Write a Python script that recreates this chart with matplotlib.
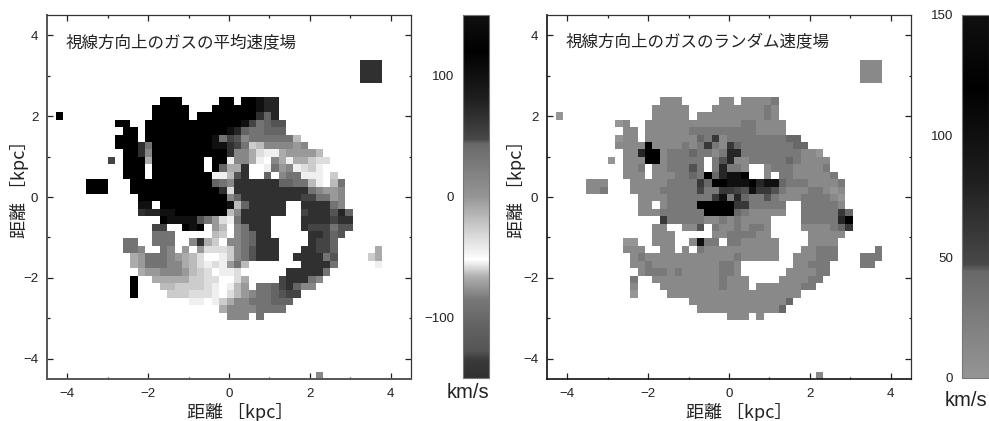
import numpy as np
import matplotlib
matplotlib.use("Agg")
import matplotlib.pyplot as plt
from matplotlib.colors import LinearSegmentedColormap
from matplotlib.cm import ScalarMappable
from matplotlib.colors import Normalize

plt.rcParams['font.family'] = ['Liberation Sans', 'Noto Sans CJK JP', 'DejaVu Sans']

W, H = 989, 421
CJK = ['Noto Sans CJK JP', 'DejaVu Sans']

# colour scale: km/s, grey (0-255)
scale_v = [-150, -135, -128, -110, -85, -66, -55, -52, -45, -36, -20, 0, 25, 44, 47, 60, 80, 100, 120, 150]
scale_g = [0x30, 0x3a, 0x55, 0x60, 0x78, 0xb0, 0xf0, 0xff, 0xf0, 0xe0, 0xc0, 0x95, 0x7c, 0x68, 0x48, 0x38, 0x20, 0x10, 0x00, 0x10]

# each letter in the rows is one of these velocities
mean_levels = {'0': 120, '1': 100, '2': 75, '3': -150, '4': 50, '5': -128, '6': 44, '7': 33,
               '8': 14, '9': -2, 'a': -10, 'b': -18, 'c': -26, 'd': -34, 'e': -44, 'f': -52}
rand_levels = {'0': 120, '1': 100, '2': 75, '3': 60, '4': 50, '5': 46, '6': 44, '7': 28, '8': 12, '9': 0}

d = "."
z = "0"
t = "3"

mean_rows = [
    d*41+"333",
    d*41+"333",
    d*41+"333",
    "", "",
    d*14+"000"+d*5+"00"+d+"00122",
    d*13+"00000"+d*3+"000000122",
    "0"+d*12+"00000"+d+z*8+"362",
    d*8+"00"+d*2+z*13+"147655",
    d*9+"00"+d+z*11+"12677666",
    d*8+"000"+d+z*9+"17458777777b",
    d*8+"00037"+z*8+"11347cb888898",
    d*9+"0038"+z*10+"388adeea9999b",
    d*7+"4"+d+"000a"+z*7+d+"00"+"e88aef8aeaacdd",
    d*9+"000"+d+z*7+d+"0"+"6aa3"+d*2+"e798edcef",
    d*9+"000"+d+z*8+"eeb53"+d*2+"6"+d+"877eeefc",
    d*4+"000"+d*3+z*11+"678"+t*6+"6677befb7",
    d*4+"000"+d*3+z*12+"3d"+t*10+"78998",
    d*11+z*12+"86"+t*8+"44"+"7798",
    d*11+"11"+d+z*9+"1b6"+t*5+d*2+"3333"+"78",
    d*11+"32211"+z*7+"b8"+t*6+d*2+"4333"+"526",
    d*14+"0"+"1111"+"579de7"+"3333"+d*4+"3333"+"433",
    d*13+"44"+d*2+"010"+d+"9bf87"+"333"+d*4+"3444"+"755",
    d*13+"777"+d*5+"bcf876"+"33"+d*5+"334"+"65",
    d*9+"77"+d*2+"777"+d*2+"83ac"+d+"8876"+"333"+d*4+"344"+"6",
    d*9+"778"+d*2+"78"+d+"9"+d+"9dddc875"+"333"+d*3+"3344"+"6"+d*5+"a",
    d*10+"a977789abdffec875"+"333"+d*2+"3333"+"75"+d*3+"fca",
    d*10+"a977788abdede97b"+d*7+"3333"+"7"+d*4+"fe",
    d*11+"a998889bcdfeed"+d*6+"33333"+"7",
    d*10+"0"+d*2+"aaaaaccddffda"+d*4+"4333"+"78",
    d*10+"0"+d*3+"bbccccdefeb9"+d+"77643688",
    d*10+"0"+d*4+"cccdddefdb98776544",
    d*18+"eefeca88777666",
    d*19+"fffa88887777",
    d*23+"888"+d+"7",
    "", "", "", "", "", "", "",
    d*35+"8",
]

rand_rows = [
    d*41+"888",
    d*41+"888",
    d*41+"888",
    "", "",
    d*14+"888"+d*5+"88"+d+"88887",
    d*13+"88888"+d*3+"888888878",
    "9"+d*12+"88888"+d+"88888888878",
    d*8+"98"+d*2+"8"*13+"77"+"8888",
    d*9+"88"+d+"8888887"+"7"*8+"8888",
    d*8+"988"+d+"8"*7+"67387777777766",
    d*8+"888"+"8"+"0"+"8"+"88878"+"737836777777766",
    d*9+"88"+"2"+"00"+"877767787"+"22"+"77777777889",
    d*7+"9"+d+"888"+"00"+"877777"+d+"7528877777678888",
    d*9+"887"+d+"8877757"+d+"7"+"2778"+d*2+"877788887",
    d*9+"888"+d+"8887767"+"062110"+d*2+"8"+d+"77888887",
    d*4+"888"+d*3+"88888777736"+"001110211"+"677788887",
    d*4+"887"+d*3+"88887777747"+"733451335"+"788877898",
    d*11+"8888777777"+"317267757"+"888777789",
    d*11+"88"+d+"87777"+"00000"+"33"+"77777"+d*2+"7777"+"78",
    d*11+"888777777"+"0000"+"6788888"+d*2+"7777736",
    d*14+"3"+"777778"+"87878888"+d*4+"7777"+"720",
    d*13+"88"+d*2+"885"+d+"78878778"+d*4+"8888"+"763",
    d*13+"888"+d*5+"88777788"+d*5+"88888",
    d*9+"99"+d*2+"888"+d*2+"81"+"77"+d+"7788888"+d*4+"8888",
    d*9+"888"+d*2+"88"+d+"8"+d+"78888888888"+d*3+"88777"+d*5+"7",
    d*10+"87"+"8"*12+"7"+"88888"+d*2+"888777"+d*3+"777",
    d*10+"887888888888778"+d*7+"88777"+d*4+"77",
    d*11+"87778788888778"+d*6+"888877",
    d*10+"7"+d*2+"8888888887888"+d*4+"888877",
    d*10+"8"+d*3+"888888887888"+d+"88888877",
    d*10+"9"+d*4+"8"*18,
    d*18+"8"*13+"6",
    d*19+"8"*11+"6",
    d*23+"888"+d+"8",
    "", "", "", "", "", "", "",
    d*35+"8",
]

xticks = [-4, -2, 0, 2, 4]
xminor = [-3, -1, 1, 3]
mean_cbar_ticks = [-100, 0, 100]
rand_cbar_ticks = [0, 50, 100, 150]

cell = 0.1835
x0 = -4.28
y_top = 3.378


def to_grid(rows, levels):
    arr = np.full((len(rows), 44), np.nan)
    for i, row in enumerate(rows):
        for j, ch in enumerate(row):
            if ch != ".":
                arr[i, j] = levels[ch]
    return np.ma.masked_invalid(arr)


def make_cmap(vmin, vmax):
    v = np.array(scale_v, dtype=float)
    g = np.array(scale_g) / 255.0
    keep = v >= vmin
    pos = (v[keep] - vmin) / (vmax - vmin)
    return LinearSegmentedColormap.from_list("gas", [(p, (c, c, c)) for p, c in zip(pos, g[keep])], N=512)


def box(px0, py0, px1, py1):
    return [px0 / W, 1 - py1 / H, (px1 - px0) / W, (py1 - py0) / H]


def panel(px, data, cmap, vmin, vmax, title, edge, spine_w):
    ax = fig.add_axes(box(px, 15, px + 364, 379))
    xe = x0 + cell * np.arange(data.shape[1] + 1)
    ye = y_top - cell * np.arange(data.shape[0] + 1)
    ax.pcolormesh(xe, ye, data, cmap=cmap, vmin=vmin, vmax=vmax, linewidth=0, antialiased=False)
    ax.set_xlim(-4.5, 4.5)
    ax.set_ylim(-4.5, 4.5)
    ax.set_xticks(xticks)
    ax.set_yticks(xticks)
    ax.set_xticks(xminor, minor=True)
    ax.set_yticks(xminor, minor=True)
    ax.tick_params(which='major', direction='in', top=True, right=True, length=4.3, width=0.9, color='#222222',
                   labelsize=9.6, pad=6.3, labelcolor='#222222')
    ax.tick_params(which='minor', direction='in', top=True, right=True, length=1.8, width=0.9, color='#222222')
    for s in ax.spines.values():
        s.set_color('#333333')
        s.set_linewidth(0.9)
    ax.spines['left'].set_color(edge)
    ax.spines['left'].set_linewidth(spine_w)
    ax.spines['bottom'].set_color(edge)
    ax.spines['bottom'].set_linewidth(spine_w)
    ax.text(0.05, 0.923, title, transform=ax.transAxes, family=CJK, fontsize=11.9, va='center', color='#222222')
    return ax


def cbar(px0, px1, cmap, vmin, vmax, ticks):
    cax = fig.add_axes(box(px0, 15, px1, 378))
    cb = fig.colorbar(ScalarMappable(Normalize(vmin, vmax), cmap), cax=cax)
    cb.set_ticks(ticks)
    cax.yaxis.tick_left()
    cax.tick_params(length=0, labelsize=9.6, pad=6.5, labelcolor='#222222')
    cb.outline.set_edgecolor('#777777')
    cb.outline.set_linewidth(0.8)
    return cax


fig = plt.figure(figsize=(W / 100, H / 100), dpi=100)

cm_mean = make_cmap(-150, 150)
cm_rand = make_cmap(0, 150)

panel(47, to_grid(mean_rows, mean_levels), cm_mean, -150, 150, "視線方向上のガスの平均速度場", '#555555', 1.4)
panel(547, to_grid(rand_rows, rand_levels), cm_rand, 0, 150, "視線方向上のガスのランダム速度場", '#111111', 1.2)

cbar(463, 489, cm_mean, -150, 150, mean_cbar_ticks)
cbar(962, 989, cm_rand, 0, 150, rand_cbar_ticks)

# axis labels as figure text, the reference has them off centre
label = "距離 ［kpc］"
fig.text(240 / W, 1 - 412 / H, label, family=CJK, fontsize=13, ha='center', va='center', color='#222222')
fig.text(739 / W, 1 - 412 / H, label, family=CJK, fontsize=13, ha='center', va='center', color='#222222')
fig.text(20 / W, 1 - 185 / H, label, family=CJK, fontsize=13, rotation=90, ha='center', va='center', color='#222222')
fig.text(516 / W, 1 - 185 / H, label, family=CJK, fontsize=13, rotation=90, ha='center', va='center', color='#222222')

fig.text(468 / W, 1 - 393 / H, "km/s", fontsize=14.5, ha='center', va='center', color='#222222')
fig.text(966 / W, 1 - 400 / H, "km/s", fontsize=14.5, ha='center', va='center', color='#222222')

fig.savefig("out.png", dpi=100)
